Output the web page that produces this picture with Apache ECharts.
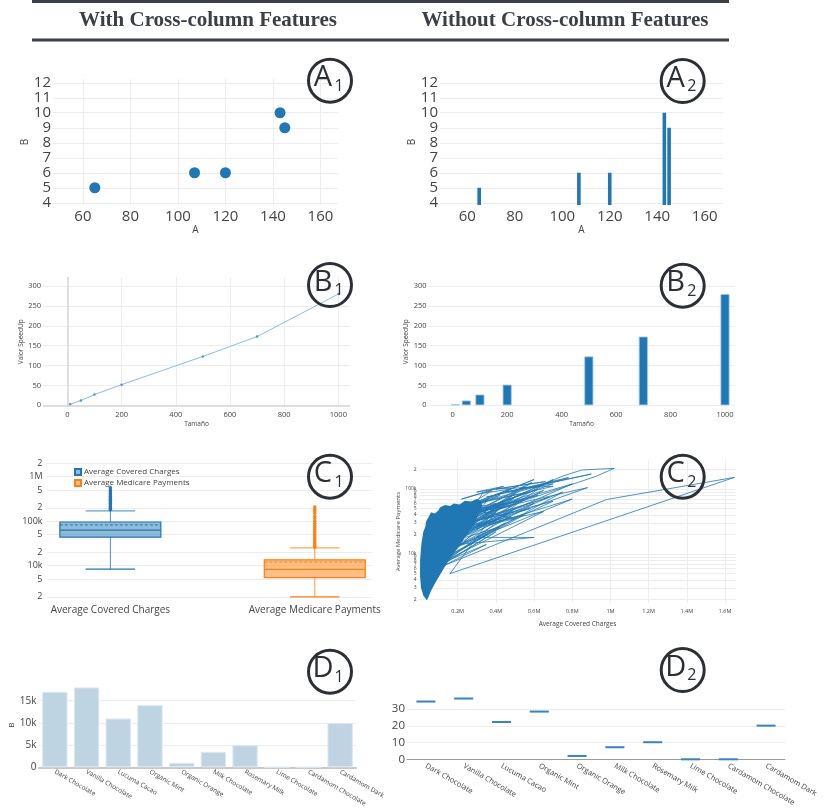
<!DOCTYPE html>
<html>
<head>
<meta charset="utf-8">
<script src="https://cdn.jsdelivr.net/npm/echarts@6/dist/echarts.min.js"></script>
<style>
  html, body { margin: 0; padding: 0; background: #fff; }
  #chart { width: 831px; height: 809px; }
</style>
</head>
<body>
<div id="chart"></div>
<script>
// ---- data ----
var aX = [65, 107, 120, 143, 145];           // column A
var aY = [5, 6, 6, 10, 9];                   // column B
var aXTicks = [60, 80, 100, 120, 140, 160];
var aYTicks = [4, 5, 6, 7, 8, 9, 10, 11, 12];

var bSize = [10, 50, 100, 200, 500, 700, 1000];     // Tamaño
var bSpeedup = [2.5, 12, 27, 52, 123, 173, 280];    // Valor SpeedUp
var bXTicks = [0, 200, 400, 600, 800, 1000];
var bYTicks = [0, 50, 100, 150, 200, 250, 300];

var boxNames = ['Average Covered Charges', 'Average Medicare Payments'];
// in thousands: low whisker, q1, median, q3, high whisker, mean
var coveredStats = [8.4, 43.8, 62.8, 96, 170, 82.6];
var medicareStats = [2.0, 5.4, 8.3, 13.6, 25.1, 12.1];
var coveredOutliers = [180, 195, 210, 230, 250, 270, 290, 310, 335, 360, 390, 420, 460, 500, 566];
var medicareOutliers = [26, 28, 31, 34, 38, 42, 47, 52, 58, 65, 72, 80, 90, 100, 115, 130, 150, 170, 185, 208];
var c1Ticks = [2, 5, 10, 20, 50, 100, 200, 500, 1000, 2000];   // thousands

// C2: covered charges (millions) vs medicare payments (thousands)
var c2Core = [
  [0.003, 8], [0.01, 14.5], [0.02, 22], [0.03, 26], [0.035, 32], [0.05, 38], [0.06, 44], [0.08, 42],
  [0.1, 47], [0.107, 52], [0.134, 57], [0.16, 55], [0.18, 60], [0.21, 58], [0.238, 66], [0.27, 64],
  [0.3, 70], [0.32, 66], [0.33, 55], [0.31, 42], [0.29, 30], [0.25, 20], [0.2, 12.5], [0.16, 8.5],
  [0.13, 6.2], [0.1, 4.4], [0.08, 3.5], [0.06, 2.7], [0.045, 2.1], [0.038, 1.95], [0.02, 2.3],
  [0.008, 3], [0.003, 4.5]
];
var c2Path = [
  [0.02, 6], [0.45, 60], [0.08, 12], [0.59, 127], [0.12, 25], [0.75, 158], [0.85, 196], [1.02, 208],
  [0.92, 155], [0.2, 30], [0.7, 140], [0.15, 18], [0.88, 105], [0.25, 40], [0.8, 120], [0.1, 15],
  [0.65, 95], [0.3, 45], [0.55, 110], [0.18, 22], [0.5, 75], [0.12, 10], [0.6, 60], [0.22, 28],
  [0.7, 65], [0.16, 12], [0.8, 70], [0.2, 20], [0.75, 90], [0.14, 9], [0.55, 40], [0.25, 25],
  [0.65, 45], [0.1, 7], [0.45, 30], [0.3, 18], [0.6, 18], [0.2, 14], [0.5, 50], [0.09, 6],
  [0.4, 22], [0.15, 8], [0.35, 14], [0.12, 6.5], [0.98, 69], [1.65, 151], [0.16, 5], [0.4, 45],
  [0.06, 5], [0.33, 86], [0.48, 100], [0.2, 50], [0.42, 80], [0.1, 30], [0.36, 70], [0.28, 35],
  [0.5, 85], [0.26, 26], [0.42, 55], [0.24, 45], [0.52, 65], [0.3, 24], [0.46, 42], [0.22, 18],
  [0.38, 35], [0.28, 60], [0.56, 88], [0.34, 50], [0.62, 100], [0.36, 28], [0.5, 35], [0.26, 50],
  [0.4, 60], [0.3, 40], [0.48, 55], [0.18, 40], [0.38, 95], [0.22, 70], [0.44, 110], [0.3, 90],
  [0.66, 130], [0.4, 100], [0.7, 110], [0.25, 55], [0.6, 140], [0.3, 60], [0.78, 150], [0.35, 75],
  [0.9, 170], [0.45, 90], [0.7, 120], [0.28, 45], [0.62, 80], [0.2, 35], [0.55, 70], [0.24, 30],
  [0.68, 75], [0.3, 33], [0.58, 50], [0.2, 24], [0.48, 38], [0.18, 16], [0.42, 26], [0.14, 11],
  [0.36, 20], [0.12, 8], [0.08, 20], [0.32, 30], [0.05, 9]
];
var c2XTicks = [0.2, 0.4, 0.6, 0.8, 1, 1.2, 1.4, 1.6];      // millions
var c2YTicks = [2, 3, 4, 5, 6, 7, 8, 9, 10, 20, 30, 40, 50, 60, 70, 80, 90, 100, 200]; // thousands

var chocolates = ['Dark Chocolate', 'Vanilla Chocolate', 'Lucuma Cacao', 'Organic Mint', 'Organic Orange',
  'Milk Chocolate', 'Rosemary Milk', 'Lime Chocolate', 'Cardamom Chocolate', 'Cardamom Dark'];
var d1Values = [17000, 18000, 11000, 14000, 1000, 3500, 5000, 0, 0, 10000];
var d2Values = [34.5, 36.3, 22.3, 28.5, 2, 7.2, 10.2, 0, 0, 20.1];
var d1Ticks = [0, 5000, 10000, 15000];
var d2Ticks = [0, 10, 20, 30];

// ---- helpers ----
var FONT = 'Open Sans';
var INK = '#2b2f36';
var boxLine = ['#1f77b4', '#ff7f0e'];
var boxFill = ['rgba(31,119,180,0.5)', 'rgba(255,127,14,0.5)'];

function lg(k) { return Math.log10(k * 1000); }   // thousands -> log10 dollars

function logLabel(v) {
  var n = Math.round(Math.pow(10, v));
  var e = Math.floor(Math.log10(n) + 1e-9);
  var lead = Math.round(n / Math.pow(10, e));
  if (lead === 1) return e >= 6 ? Math.pow(10, e - 6) + 'M' : Math.pow(10, e - 3) + 'k';
  return String(lead);
}

function kLabel(v) { return v === 0 ? '0' : (v / 1000) + 'k'; }
function plain(v) { return String(v); }

function valueAxis(grid, min, max, ticks, o) {
  return {
    type: 'value', gridIndex: grid, min: min, max: max,
    axisLine: { show: false },
    axisTick: { show: false, customValues: ticks },
    splitLine: { show: o.split !== false, lineStyle: { color: '#ededed', width: 1 } },
    axisLabel: {
      customValues: ticks, color: '#444', fontFamily: FONT,
      fontSize: o.size, margin: o.margin, formatter: o.fmt || plain
    },
    name: o.name || '', nameLocation: 'middle', nameGap: o.gap,
    nameTextStyle: { color: '#444', fontFamily: FONT, fontSize: o.nameSize }
  };
}

function catAxis(grid, o) {
  return {
    type: 'category', gridIndex: grid, data: chocolates,
    axisLine: { show: true, lineStyle: { color: o.lineColor, width: o.lineWidth } },
    axisTick: { show: false },
    splitLine: { show: false },
    axisLabel: { interval: 0, rotate: -30, color: '#444', fontFamily: FONT, fontSize: o.size, margin: o.margin }
  };
}

function renderBox(params, api) {
  var x = api.value(0);
  var unit = api.size([1, 0])[0];
  var half = unit * 0.247, cap = unit * 0.121;
  var pt = function (i) { return api.coord([x, api.value(i)]); };
  var lo = pt(1), q1 = pt(2), md = pt(3), q3 = pt(4), hi = pt(5), mn = pt(6);
  var stroke = boxLine[x], fill = boxFill[x];
  var cx = lo[0];
  return {
    type: 'group',
    children: [
      { type: 'line', shape: { x1: cx, y1: lo[1], x2: cx, y2: q1[1] }, style: { stroke: stroke, lineWidth: 1, opacity: 0.8 } },
      { type: 'line', shape: { x1: cx, y1: q3[1], x2: cx, y2: hi[1] }, style: { stroke: stroke, lineWidth: 1, opacity: 0.8 } },
      { type: 'line', shape: { x1: cx - cap, y1: lo[1], x2: cx + cap, y2: lo[1] }, style: { stroke: stroke, lineWidth: 1.2 } },
      { type: 'line', shape: { x1: cx - cap, y1: hi[1], x2: cx + cap, y2: hi[1] }, style: { stroke: stroke, lineWidth: 1.2, opacity: 0.7 } },
      { type: 'rect', shape: { x: cx - half, y: q3[1], width: half * 2, height: q1[1] - q3[1] }, style: { fill: fill, stroke: stroke, lineWidth: 1.2 } },
      { type: 'line', shape: { x1: cx - half, y1: md[1], x2: cx + half, y2: md[1] }, style: { stroke: stroke, lineWidth: 1.2 } },
      { type: 'line', shape: { x1: cx - half, y1: mn[1], x2: cx + half, y2: mn[1] }, style: { stroke: stroke, lineWidth: 1, lineDash: [3, 2] } }
    ]
  };
}

function badge(cx, cy, letter, sub) {
  return [
    { type: 'circle', shape: { cx: cx, cy: cy, r: 21.5 }, style: { fill: 'none', stroke: INK, lineWidth: 3 }, z: 100 },
    { type: 'text', x: cx - 7, y: cy - 2.5, z: 101,
      style: { text: letter, fontFamily: FONT, fontSize: 29, fill: INK, align: 'center', verticalAlign: 'middle' } },
    { type: 'text', x: cx + 9, y: cy + 5.5, z: 101,
      style: { text: sub, fontFamily: FONT, fontSize: 16, fill: INK, align: 'center', verticalAlign: 'middle' } }
  ];
}

var chart = echarts.init(document.getElementById('chart'), null, { renderer: 'canvas' });

var graphics = [
  { type: 'rect', shape: { x: 32, y: 0, width: 697, height: 3 }, style: { fill: '#3a3f48' } },
  { type: 'rect', shape: { x: 32, y: 38.5, width: 697, height: 3 }, style: { fill: '#3a3f48' } },
  { type: 'text', x: 208, y: 20.5, style: { text: 'With Cross-column Features', fontFamily: 'Liberation Serif', fontWeight: 'bold', fontSize: 21, fill: '#3a3f48', align: 'center', verticalAlign: 'middle' } },
  { type: 'text', x: 565, y: 20.5, style: { text: 'Without Cross-column Features', fontFamily: 'Liberation Serif', fontWeight: 'bold', fontSize: 21, fill: '#3a3f48', align: 'center', verticalAlign: 'middle' } }
]
  .concat(badge(330, 80.7, 'A', '1'))
  .concat(badge(682.7, 81, 'A', '2'))
  .concat(badge(330, 285, 'B', '1'))
  .concat(badge(682.7, 285.7, 'B', '2'))
  .concat(badge(330, 476.7, 'C', '1'))
  .concat(badge(682.7, 476.7, 'C', '2'))
  .concat(badge(330, 671.7, 'D', '1'))
  .concat(badge(682.7, 670, 'D', '2'));

var option = {
  animation: false,
  backgroundColor: '#fff',
  textStyle: { fontFamily: FONT },
  graphic: graphics,
  legend: {
    data: boxNames, orient: 'vertical', left: 69, top: 463,
    icon: 'rect', itemWidth: 6, itemHeight: 6, itemGap: 3, selectedMode: false,
    textStyle: { fontFamily: FONT, fontSize: 8, color: '#444', padding: [0, 0, 0, -2] }
  },
  grid: [
    { left: 53, top: 79, width: 285, height: 126 },      // A1
    { left: 440, top: 79, width: 283, height: 126 },     // A2
    { left: 43, top: 277, width: 307, height: 129.5 },   // B1
    { left: 428, top: 277, width: 307, height: 129.5 },  // B2
    { left: 47, top: 458, width: 325, height: 142 },     // C1
    { left: 419.5, top: 460.4, width: 316, height: 142.4 }, // C2
    { left: 39, top: 683, width: 317, height: 84.3 },    // D1
    { left: 407, top: 694, width: 378, height: 65.3 }    // D2
  ],
  xAxis: [
    valueAxis(0, 47.4, 167.4, aXTicks, { size: 15, margin: 4, name: 'A', gap: 19, nameSize: 10 }),
    valueAxis(1, 48.5, 167.7, aXTicks, { size: 15, margin: 4, name: 'A', gap: 19, nameSize: 10, split: false }),
    valueAxis(2, -90, 1043, bXTicks, { size: 7.5, margin: 4, name: 'Tamaño', gap: 14, nameSize: 6.5 }),
    valueAxis(3, -90.7, 1036.7, bXTicks, { size: 7.5, margin: 4, name: 'Tamaño', gap: 14.5, nameSize: 6.5, split: false }),
    valueAxis(4, -0.31, 1.28, [0, 1], { size: 10, margin: 5, split: false, fmt: function (v) { return boxNames[Math.round(v)]; } }),
    valueAxis(5, 0, 1.655e6, c2XTicks.map(function (m) { return Math.round(m * 1e6); }),
      { size: 5.5, margin: 6, name: 'Average Covered Charges', gap: 18, nameSize: 6.5, fmt: function (v) { return (v / 1e6) + 'M'; } }),
    catAxis(6, { lineColor: '#c8c8c8', lineWidth: 2, size: 6.5, margin: 4 }),
    catAxis(7, { lineColor: '#9a9a9a', lineWidth: 1, size: 7.5, margin: 6 })
  ],
  yAxis: [
    valueAxis(0, 3.85, 12.25, aYTicks, { size: 15, margin: 2, name: 'B', gap: 17.5, nameSize: 10 }),
    valueAxis(1, 3.85, 12.25, aYTicks, { size: 15, margin: 2, name: 'B', gap: 17.5, nameSize: 10 }),
    valueAxis(2, -3, 323, bYTicks, { size: 7.5, margin: 2, name: 'Valor SpeedUp', gap: 12.5, nameSize: 6.5 }),
    valueAxis(3, -3, 323, bYTicks, { size: 7.5, margin: 1.5, name: 'Valor SpeedUp', gap: 11.5, nameSize: 6.5 }),
    valueAxis(4, 3.23, 6.42, c1Ticks.map(lg), { size: 9, margin: 4.5, fmt: logLabel }),
    valueAxis(5, 3.25, 5.44, c2YTicks.map(lg), { size: 5, margin: 3, name: 'Average Medicare Payments', gap: 9.5, nameSize: 6, fmt: logLabel }),
    valueAxis(6, 0, 19000, d1Ticks, { size: 10, margin: 2.5, name: 'B', gap: 20, nameSize: 8, fmt: kLabel }),
    valueAxis(7, 0, 39, d2Ticks, { size: 11.5, margin: 2 })
  ],
  series: [
    // A1
    { type: 'scatter', xAxisIndex: 0, yAxisIndex: 0, symbolSize: 11,
      itemStyle: { color: '#1f77b4', opacity: 1 },
      data: aX.map(function (x, i) { return [x, aY[i]]; }) },
    // A2
    { type: 'bar', xAxisIndex: 1, yAxisIndex: 1, barWidth: 3.6,
      itemStyle: { color: '#1f77b4' },
      data: aX.map(function (x, i) { return [x, aY[i]]; }) },
    // B1
    { type: 'line', xAxisIndex: 2, yAxisIndex: 2, symbol: 'circle', symbolSize: 2.5,
      lineStyle: { color: '#8dbde3', width: 1 }, itemStyle: { color: '#4f93cf' },
      data: bSize.map(function (x, i) { return [x, bSpeedup[i]]; }),
      markLine: { silent: true, symbol: 'none', label: { show: false },
        lineStyle: { color: '#d6d6d6', width: 1.5, type: 'solid' },
        data: [{ xAxis: 0 }, { yAxis: 0 }] } },
    // B2
    { type: 'bar', xAxisIndex: 3, yAxisIndex: 3, barWidth: 9,
      itemStyle: { color: '#1f77b4', borderColor: '#9cc4e6', borderWidth: 0.8 },
      data: bSize.map(function (x, i) { return [x, bSpeedup[i]]; }) },
    // C1 boxes
    { type: 'custom', name: boxNames[0], xAxisIndex: 4, yAxisIndex: 4, renderItem: renderBox,
      itemStyle: { color: boxFill[0], borderColor: boxLine[0], borderWidth: 1 },
      data: [[0].concat(coveredStats.map(lg))] },
    { type: 'custom', name: boxNames[1], xAxisIndex: 4, yAxisIndex: 4, renderItem: renderBox,
      itemStyle: { color: boxFill[1], borderColor: boxLine[1], borderWidth: 1 },
      data: [[1].concat(medicareStats.map(lg))] },
    { type: 'scatter', xAxisIndex: 4, yAxisIndex: 4, symbolSize: 3.5,
      itemStyle: { color: boxLine[0], opacity: 1 },
      data: coveredOutliers.map(function (k) { return [0, lg(k)]; }) },
    { type: 'scatter', xAxisIndex: 4, yAxisIndex: 4, symbolSize: 3.5,
      itemStyle: { color: boxLine[1], opacity: 1 },
      data: medicareOutliers.map(function (k) { return [1, lg(k)]; }) },
    // C2 dense core + traced lines
    { type: 'custom', xAxisIndex: 5, yAxisIndex: 5, clip: true,
      data: c2Core.map(function (p) { return [p[0] * 1e6, lg(p[1])]; }),
      renderItem: function (params, api) {
        if (params.dataIndex !== 0) return null;
        var pts = c2Core.map(function (p) { return api.coord([p[0] * 1e6, lg(p[1])]); });
        return { type: 'polygon', shape: { points: pts }, style: { fill: '#1f77b4' } };
      } },
    { type: 'line', xAxisIndex: 5, yAxisIndex: 5, showSymbol: false,
      lineStyle: { color: '#1f77b4', width: 0.8 },
      data: c2Path.map(function (p) { return [p[0] * 1e6, lg(p[1])]; }) },
    // D1
    { type: 'bar', xAxisIndex: 6, yAxisIndex: 6, barCategoryGap: '20%',
      itemStyle: { color: '#bfd4e2', borderColor: '#dce8f0', borderWidth: 1 },
      data: d1Values },
    // D2
    { type: 'scatter', xAxisIndex: 7, yAxisIndex: 7, symbol: 'rect', symbolSize: [19, 2],
      itemStyle: { color: '#3483c3', opacity: 1 },
      data: d2Values }
  ]
};

chart.setOption(option);
</script>
</body>
</html>
